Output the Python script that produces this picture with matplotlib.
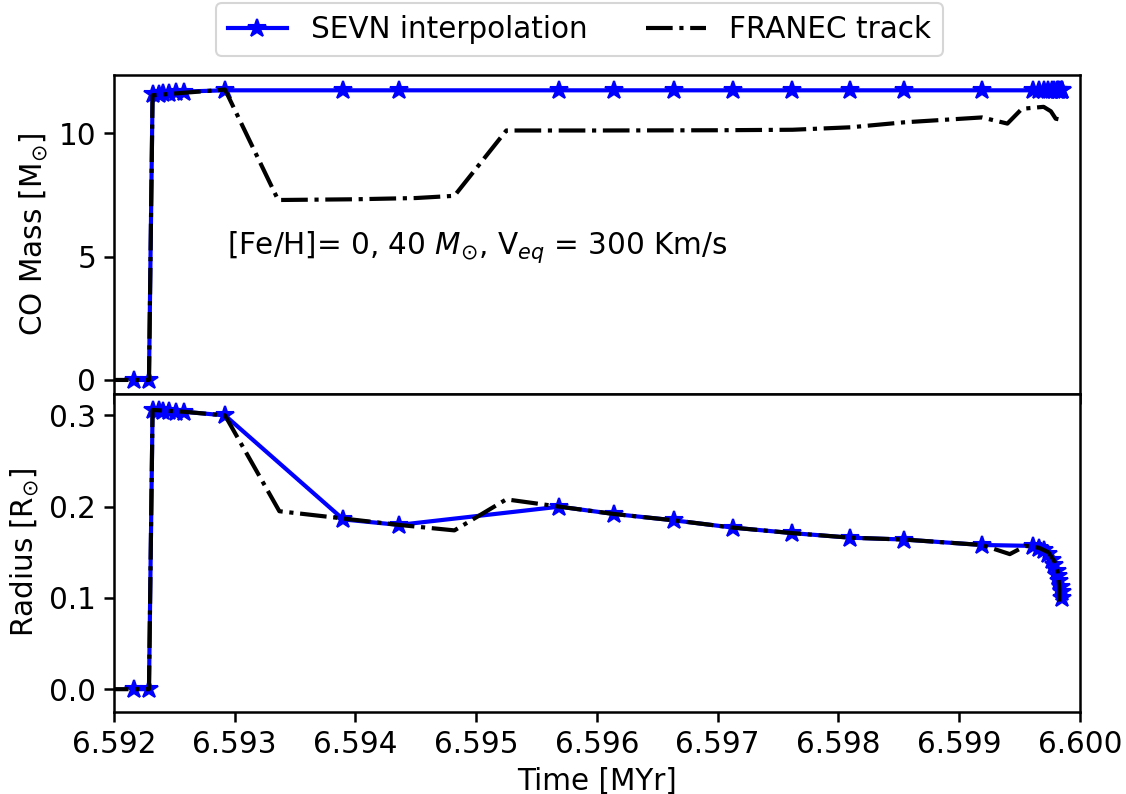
import numpy as np
import matplotlib
matplotlib.use("Agg")
import matplotlib.pyplot as plt

plt.rcParams["font.size"] = 14.2
plt.rcParams["axes.linewidth"] = 1.2
plt.rcParams["xtick.major.size"] = 5
plt.rcParams["ytick.major.size"] = 5
plt.rcParams["xtick.major.width"] = 1.2
plt.rcParams["ytick.major.width"] = 1.2

# ── SEVN interpolation (time in MYr) ──────────────────────────────────────────
sevn_t = [6.59217, 6.59229, 6.59232, 6.59237, 6.59241, 6.59246, 6.59251, 6.59258,
          6.59292, 6.59390, 6.59436, 6.59569, 6.59614, 6.59664, 6.59713, 6.59762,
          6.59810, 6.59854, 6.59919, 6.59961, 6.59966, 6.59970, 6.59974, 6.59977,
          6.59979, 6.59981, 6.59982, 6.59983, 6.59984, 6.59985, 6.59985]
sevn_co = [0.0, 0.0, 11.6, 11.62, 11.64, 11.66, 11.68, 11.7,
           11.75, 11.75, 11.75, 11.75, 11.75, 11.75, 11.75, 11.75,
           11.75, 11.75, 11.75, 11.75, 11.75, 11.75, 11.75, 11.75,
           11.75, 11.75, 11.75, 11.75, 11.75, 11.75, 11.75]
sevn_r = [0.0, 0.0, 0.306, 0.306, 0.305, 0.305, 0.304, 0.304,
          0.300, 0.186, 0.180, 0.200, 0.192, 0.185, 0.177, 0.171,
          0.166, 0.164, 0.158, 0.157, 0.155, 0.152, 0.148, 0.142,
          0.136, 0.130, 0.124, 0.118, 0.112, 0.106, 0.100]

# ── FRANEC track ──────────────────────────────────────────────────────────────
fr_t_co = [6.5919, 6.59229, 6.59232, 6.59258, 6.59292, 6.59336, 6.59400, 6.59450,
           6.59482, 6.59525, 6.59600, 6.59700, 6.59762, 6.59810, 6.59854, 6.59919,
           6.59940, 6.59952, 6.59970, 6.59976, 6.59980, 6.59985]
fr_co = [0.0, 0.0, 11.55, 11.65, 11.78, 7.3, 7.33, 7.38,
         7.47, 10.12, 10.12, 10.13, 10.15, 10.25, 10.45, 10.65,
         10.4, 11.0, 11.08, 10.9, 10.6, 10.55]

fr_t_r = [6.5919, 6.59229, 6.59232, 6.59258, 6.59292, 6.59337, 6.59390, 6.59436,
          6.59482, 6.59525, 6.59569, 6.59614, 6.59664, 6.59713, 6.59762, 6.59810,
          6.59854, 6.59919, 6.59942, 6.59955, 6.59966, 6.59974, 6.59979, 6.59982,
          6.59983, 6.59983]
fr_r = [0.0, 0.0, 0.306, 0.304, 0.300, 0.195, 0.187, 0.180,
        0.174, 0.208, 0.200, 0.192, 0.185, 0.177, 0.171, 0.166,
        0.164, 0.158, 0.148, 0.157, 0.155, 0.150, 0.140, 0.127,
        0.110, 0.096]

x_ticks = [6.592, 6.593, 6.594, 6.595, 6.596, 6.597, 6.598, 6.599, 6.600]

fig, (ax1, ax2) = plt.subplots(2, 1, sharex=True, figsize=(1126/150, 794/150), dpi=150)
fig.subplots_adjust(left=0.1012, right=0.959, top=0.9055, bottom=0.1033, hspace=0)

# 상단: CO mass
ax1.plot(sevn_t, sevn_co, color="blue", lw=2, marker="*", ms=9, label="SEVN interpolation")
ax1.plot(fr_t_co, fr_co, color="black", lw=2, ls="-.", label="FRANEC track")
ax1.set_ylabel(r"CO Mass [M$_{\odot}$]")
ax1.set_ylim(-0.55, 12.37)
ax1.set_yticks([0, 5, 10])
ax1.text(6.59294, 5.4, r"[Fe/H]= 0, 40 $M_{\odot}$, V$_{eq}$ = 300 Km/s", va="center")

# 하단: radius
ax2.plot(sevn_t, sevn_r, color="blue", lw=2, marker="*", ms=9)
ax2.plot(fr_t_r, fr_r, color="black", lw=2, ls="-.")
ax2.set_ylabel(r"Radius [R$_{\odot}$]")
ax2.set_ylim(-0.025, 0.324)
ax2.set_yticks([0.0, 0.1, 0.2, 0.3])
ax2.set_xlim(6.592, 6.600)
ax2.set_xticks(x_ticks)
ax2.set_xticklabels([f"{v:.3f}" for v in x_ticks])
ax2.set_xlabel("Time [MYr]")

fig.legend(loc="upper center", bbox_to_anchor=(0.5147, 0.996), ncol=2, borderaxespad=0)

plt.savefig("out.png", dpi=150)
